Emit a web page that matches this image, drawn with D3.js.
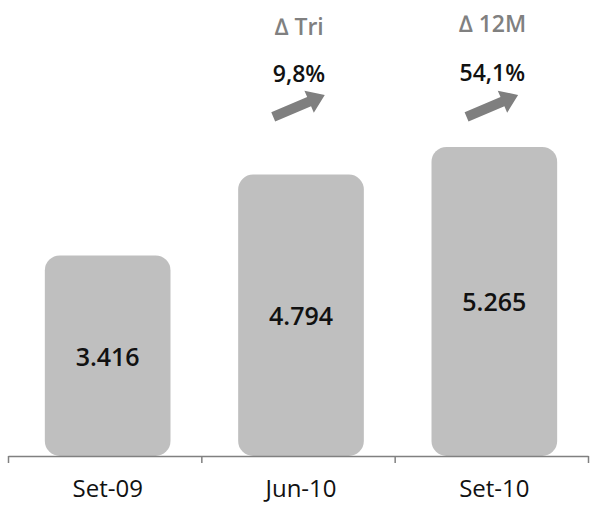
<!DOCTYPE html>
<html>
<head>
<meta charset="utf-8">
<script src="https://cdn.jsdelivr.net/npm/d3@7"></script>
<style>
  body { margin: 0; background: #fff; }
  text { font-family: "Open Sans", "Noto Sans", sans-serif; }
</style>
</head>
<body>
<script>
/* CONSTANTS AND GLOBALS */
const width = 590,
  height = 505,
  baseY = 456; // axis line

// chart data
const categories = ["Set-09", "Jun-10", "Set-10"];
const values = [3416, 4794, 5265];
const deltaNames = ["\u2206 Tri", "\u2206 12M"];
const deltaValues = [9.8, 54.1];
const deltaCategories = ["Jun-10", "Set-10"];

// portuguese number format (3.416 / 9,8%)
const ptBR = d3.formatLocale({ decimal: ",", thousands: ".", grouping: [3], currency: ["R$", ""] });
const fmtValue = ptBR.format(",");
const fmtPct = d => ptBR.format(".1f")(d) + "%";

const svg = d3.select("body")
  .append("svg")
  .attr("width", width)
  .attr("height", height);

// scales
const xScale = d3.scaleBand()
  .domain(categories)
  .range([11, 591])
  .paddingInner(0.35)
  .paddingOuter(0.175);

const edgeScale = d3.scaleLinear()
  .domain([0, categories.length])
  .range([8, 588]);

const yScale = d3.scaleLinear()
  .domain([0, 6000])
  .range([baseY, baseY - 6000 * 0.0587]);

// bars
svg.selectAll("rect.bar")
  .data(values)
  .join("rect")
  .attr("class", "bar")
  .attr("x", (d, i) => xScale(categories[i]))
  .attr("y", d => yScale(d))
  .attr("width", xScale.bandwidth())
  .attr("height", d => yScale(0) - yScale(d))
  .attr("rx", 15)
  .attr("fill", "#bfbfbf");

// value labels in the middle of each bar
svg.selectAll("text.value")
  .data(values)
  .join("text")
  .attr("class", "value")
  .attr("x", (d, i) => xScale(categories[i]) + xScale.bandwidth() / 2)
  .attr("y", d => (yScale(d) + yScale(0)) / 2)
  .attr("text-anchor", "middle")
  .attr("dominant-baseline", "central")
  .attr("font-size", "25px")
  .attr("font-weight", 600)
  .attr("fill", "#111")
  .text(d => fmtValue(d));

// axis line with ticks on the category edges
const axis = svg.append("g")
  .attr("transform", `translate(0, ${baseY})`)
  .call(d3.axisBottom(edgeScale)
    .tickValues(d3.range(categories.length + 1))
    .tickFormat("")
    .tickSize(7)
    .tickSizeOuter(0));
axis.selectAll("path, line").attr("stroke", "#808080").attr("stroke-width", 1.5);

// category labels
const labels = svg.append("g")
  .attr("transform", `translate(0, ${baseY})`)
  .call(d3.axisBottom(xScale).tickSize(0).tickPadding(24));
labels.select(".domain").remove();
labels.selectAll("text")
  .attr("font-family", "'Open Sans', 'Noto Sans', sans-serif")
  .attr("font-size", "24px")
  .attr("fill", "#111")
  .attr("dy", "0.71em");

// growth annotations
const notes = svg.selectAll("g.note")
  .data(deltaNames)
  .join("g")
  .attr("class", "note")
  .attr("transform", (d, i) => `translate(${xScale(deltaCategories[i]) + xScale.bandwidth() / 2 - 2}, 0)`);

notes.append("text")
  .attr("y", (d, i) => i === 0 ? 26 : 23)
  .attr("text-anchor", "middle")
  .attr("dominant-baseline", "central")
  .attr("font-size", "23px")
  .attr("font-weight", 600)
  .attr("fill", "#808080")
  .text(d => d);

notes.append("text")
  .attr("y", (d, i) => i === 0 ? 73 : 72)
  .attr("text-anchor", "middle")
  .attr("dominant-baseline", "central")
  .attr("font-size", "23px")
  .attr("font-weight", 600)
  .attr("fill", "#111")
  .text((d, i) => fmtPct(deltaValues[i]));

// block arrow pointing up-right
const arrowPath = "M-28,-5 L11,-5 L11,-12 L28,0 L11,12 L11,5 L-28,5 Z";
notes.append("path")
  .attr("d", arrowPath)
  .attr("transform", "translate(0, 106) rotate(-23)")
  .attr("fill", "#7f7f7f");
</script>
</body>
</html>
